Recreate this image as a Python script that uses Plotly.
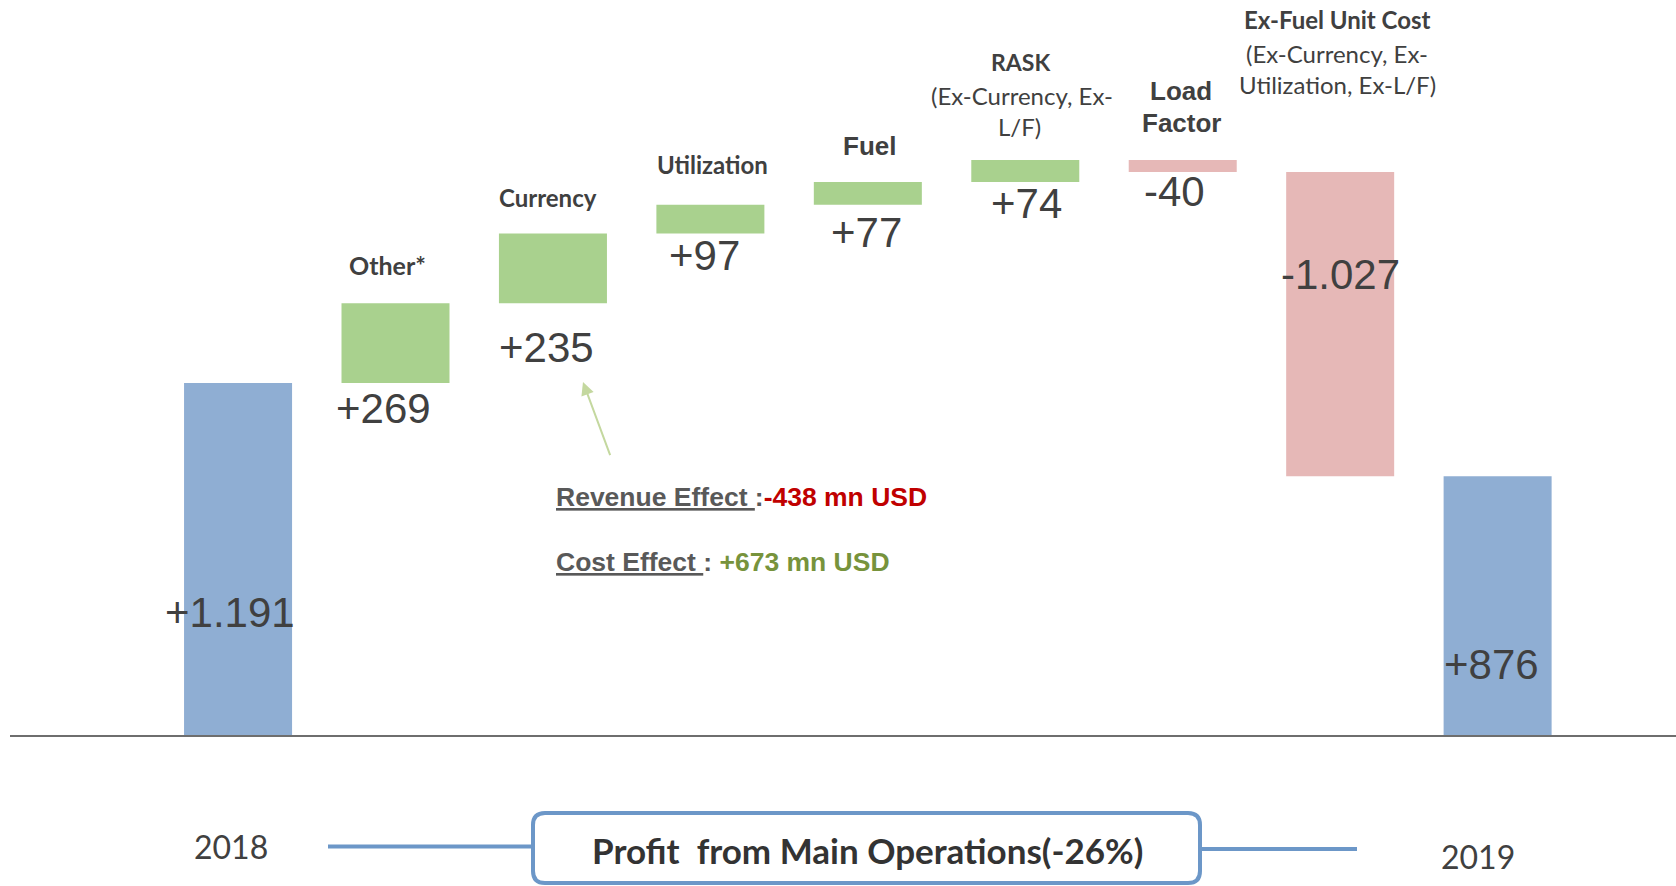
import plotly.graph_objects as go

# ---- data ----
categories = ["2018", "Other*", "Currency", "Utilization", "Fuel", "RASK",
              "Load Factor", "Ex-Fuel Unit Cost", "2019"]
values = [1191, 269, 235, 97, 77, 74, -40, -1027, 876]
measures = ["absolute", "relative", "relative", "relative", "relative",
            "relative", "relative", "relative", "total"]
value_labels = ["+1.191", "+269", "+235", "+97", "+77", "+74", "-40", "-1.027", "+876"]
year_labels = ["2018", "2019"]
box_title = "Profit  from Main Operations(-26%)"
revenue_effect = "-438 mn USD"
cost_effect = "+673 mn USD"

W, H = 1676, 886
BLUE = "#8FAED3"
GREEN = "#A9D18E"
PINK = "#E6B8B7"
DARK = "#404040"
BOX = "#6C97C8"


def px(x):
    return x / W


def py(y):
    return 1 - y / H


fig = go.Figure(go.Waterfall(
    x=categories, y=values, measure=measures,
    width=0.686,
    increasing=dict(marker=dict(color=GREEN)),
    decreasing=dict(marker=dict(color=PINK)),
    totals=dict(marker=dict(color=BLUE)),
    connector=dict(visible=False),
    hoverinfo="x+y",
))

ann = []
VF = "Liberation Sans, Arial, sans-serif"
CF = "Lato, Carlito, sans-serif"

# value labels (pixel positions)
val_pos = [(230, 612), (383.5, 408), (546, 348), (704.5, 255), (866, 232),
           (1026.6, 203), (1174, 191.5), (1340, 275), (1491, 664)]
for lab, (x, y) in zip(value_labels, val_pos):
    ann.append(dict(x=px(x), y=py(y), xref="paper", yref="paper", text=lab,
                    showarrow=False, xanchor="center", yanchor="middle",
                    font=dict(family=VF, size=42, color=DARK)))

# category labels
cat_text = [
    ("<b>" + categories[1] + "</b>", 387, 265, CF, 25),
    ("<b>" + categories[2] + "</b>", 548, 197, CF, 24),
    ("<b>" + categories[3] + "</b>", 712, 164, CF, 24),
    ("<b>" + categories[4] + "</b>", 869, 146, VF, 26),
    ("<b>" + categories[5] + "</b>", 1020, 62, CF, 23),
    ("(Ex-Currency, Ex-", 1022, 95.5, CF, 24),
    ("L/F)", 1019, 126.5, CF, 24),
    ("<b>Load</b>", 1181, 91, VF, 26),
    ("<b>Factor</b>", 1181, 123, VF, 26),
    ("<b>" + categories[7] + "</b>", 1337, 19, CF, 24),
    ("(Ex-Currency, Ex-", 1337, 53, CF, 24),
    ("Utilization, Ex-L/F)", 1337, 84, CF, 24),
]
for t, x, y, f, s in cat_text:
    ann.append(dict(x=px(x), y=py(y), xref="paper", yref="paper", text=t,
                    showarrow=False, xanchor="center", yanchor="middle",
                    font=dict(family=f, size=s, color=DARK)))

# years
for t, x, y in [(year_labels[0], 231, 846.5), (year_labels[1], 1478, 856.5)]:
    ann.append(dict(x=px(x), y=py(y), xref="paper", yref="paper", text=t,
                    showarrow=False, xanchor="center", yanchor="middle",
                    font=dict(family=CF, size=32, color=DARK)))

# box title
ann.append(dict(x=px(867), y=py(850), xref="paper", yref="paper",
                text="<b>" + box_title + "</b>", showarrow=False,
                xanchor="center", yanchor="middle",
                font=dict(family=CF, size=35, color="#333333")))

# effects text
ann.append(dict(x=px(554), y=py(497), xref="paper", yref="paper",
                text="<b><u>Revenue Effect </u>:<span style='color:#C00000'>"
                     + revenue_effect + "</span></b>",
                showarrow=False, xanchor="left", yanchor="middle",
                font=dict(family=VF, size=26.5, color="#595959")))
ann.append(dict(x=px(554), y=py(561.5), xref="paper", yref="paper",
                text="<b><u>Cost Effect </u>: <span style='color:#77933C'>"
                     + cost_effect + "</span></b>",
                showarrow=False, xanchor="left", yanchor="middle",
                font=dict(family=VF, size=26.5, color="#595959")))

# arrow
ann.append(dict(x=px(583), y=py(382), xref="paper", yref="paper", text="",
                showarrow=True, ax=27.7, ay=74.7, axref="pixel", ayref="pixel",
                arrowhead=2, arrowsize=1.3, arrowwidth=2, arrowcolor="#C4D89F"))

# shapes
x0, y0, x1, y1, r = 533, 813, 1200, 883, 12
path = (f"M {px(x0 + r)},{py(y0)} L {px(x1 - r)},{py(y0)} "
        f"Q {px(x1)},{py(y0)} {px(x1)},{py(y0 + r)} "
        f"L {px(x1)},{py(y1 - r)} Q {px(x1)},{py(y1)} {px(x1 - r)},{py(y1)} "
        f"L {px(x0 + r)},{py(y1)} Q {px(x0)},{py(y1)} {px(x0)},{py(y1 - r)} "
        f"L {px(x0)},{py(y0 + r)} Q {px(x0)},{py(y0)} {px(x0 + r)},{py(y0)} Z")
shapes = [
    dict(type="line", xref="paper", yref="y", x0=px(10), x1=1, y0=0, y1=0,
         line=dict(color="#6E6E6E", width=2), layer="above"),
    dict(type="line", xref="paper", yref="paper", x0=px(328), x1=px(533),
         y0=py(846.5), y1=py(846.5), line=dict(color=BOX, width=4)),
    dict(type="line", xref="paper", yref="paper", x0=px(1200), x1=px(1357),
         y0=py(849), y1=py(849), line=dict(color=BOX, width=4)),
    dict(type="path", xref="paper", yref="paper", path=path,
         line=dict(color=BOX, width=4), fillcolor="rgba(0,0,0,0)"),
]

fig.update_layout(
    width=W, height=H,
    margin=dict(l=0, r=0, t=0, b=0),
    plot_bgcolor="white", paper_bgcolor="white",
    showlegend=False,
    xaxis=dict(range=[-1.512, 9.133], showticklabels=False, showgrid=False,
               zeroline=False, ticks=""),
    yaxis=dict(range=[-506.1, 2483.2], showticklabels=False, showgrid=False,
               zeroline=False, ticks=""),
    annotations=ann, shapes=shapes,
)

fig.write_html("out.html",
               config={"displayModeBar": False},
               post_script="document.body.style.margin='0';"
                           "document.body.style.overflow='hidden';")
